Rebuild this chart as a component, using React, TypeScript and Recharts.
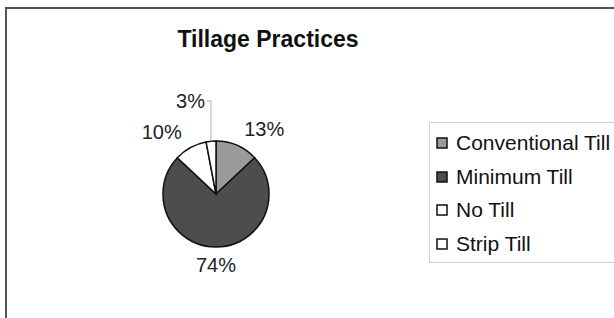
import React from "react";
import { PieChart, Pie, Cell, Legend } from "recharts";

// Tillage practices share, in percent
const PRACTICES = ["Conventional Till", "Minimum Till", "No Till", "Strip Till"];
const SHARES = [13, 74, 10, 3];
const COLORS = ["#9a9a9a", "#4d4d4d", "#ffffff", "#ffffff"];

const data = PRACTICES.map((name, i) => ({ name, value: SHARES[i] }));

const FONT = "'Liberation Sans', Arial, sans-serif";
const RAD = Math.PI / 180;

const renderLabel = (props: any) => {
  const { cx, cy, midAngle, outerRadius, percent, value } = props;
  const cos = Math.cos(-midAngle * RAD);
  const sin = Math.sin(-midAngle * RAD);

  // small slices get a leader line running straight up
  if (percent < 0.05) {
    const ax = cx + outerRadius * cos;
    const ay = cy + outerRadius * sin;
    const ly = cy - outerRadius - 40;
    return (
      <g>
        <path d={`M${ax},${ay} L${ax},${ly} L${ax - 4},${ly}`} stroke="#b0b0b0" fill="none" strokeWidth={1} />
        <text x={ax - 6} y={ly} textAnchor="end" dominantBaseline="central" fontFamily={FONT} fontSize={20} fill="#222">
          {`${value}%`}
        </text>
      </g>
    );
  }

  const r = outerRadius + 18;
  const x = cx + r * cos;
  const y = cy + r * sin;
  const anchor = Math.abs(cos) < 0.2 ? "middle" : cos > 0 ? "start" : "end";
  return (
    <text x={x} y={y} textAnchor={anchor} dominantBaseline="central" fontFamily={FONT} fontSize={20} fill="#222">
      {`${value}%`}
    </text>
  );
};

const renderLegend = (props: any) => {
  const payload = props.payload && props.payload.length ? props.payload : data.map((d, i) => ({ value: d.name, color: COLORS[i] }));
  return (
    <div
      style={{
        border: "1px solid #d0d0d0",
        width: 200,
        height: 141,
        boxSizing: "border-box",
        paddingTop: 3,
        paddingLeft: 6,
        fontFamily: FONT,
        fontSize: 21,
        color: "#111",
      }}
    >
      {payload.map((p: any, i: number) => (
        <div key={i} style={{ display: "flex", alignItems: "center", height: 33.7 }}>
          <svg width={12} height={12} style={{ marginRight: 8 }}>
            <rect x={1} y={1} width={10} height={10} fill={COLORS[i]} stroke="#111" strokeWidth={1.5} />
          </svg>
          <span>{PRACTICES[i]}</span>
        </div>
      ))}
    </div>
  );
};

export default function App() {
  return (
    <div style={{ position: "fixed", left: 0, top: 0, width: 614, height: 318, overflow: "hidden", background: "#fff" }}>
      <div
        style={{
          position: "absolute",
          left: 5,
          top: 7,
          width: 700,
          height: 400,
          borderLeft: "2px solid #555",
          borderTop: "2px solid #555",
        }}
      />
      <svg style={{ position: "absolute", left: 0, top: 0 }} width={614} height={318}>
        <text x={268} y={47} textAnchor="middle" fontFamily={FONT} fontWeight="bold" fontSize={23} fill="#111">
          Tillage Practices
        </text>
      </svg>
      <div style={{ position: "absolute", left: 0, top: 0 }}>
        <PieChart width={614} height={318} margin={{ top: 0, right: 0, bottom: 0, left: 0 }}>
          <Pie
            data={data}
            dataKey="value"
            nameKey="name"
            cx={216}
            cy={194}
            outerRadius={53}
            startAngle={90}
            endAngle={-270}
            stroke="#111"
            strokeWidth={1.5}
            label={renderLabel}
            labelLine={false}
            isAnimationActive={false}
          >
            {data.map((entry, index) => (
              <Cell key={`cell-${index}`} fill={COLORS[index]} />
            ))}
          </Pie>
          <Legend
            layout="vertical"
            content={renderLegend}
            wrapperStyle={{ position: "absolute", left: 429, top: 122, width: 200 }}
          />
        </PieChart>
      </div>
    </div>
  );
}
